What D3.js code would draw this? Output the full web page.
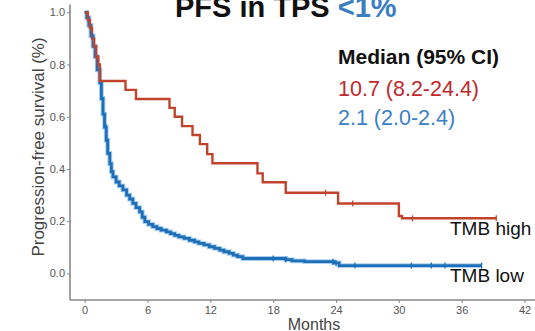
<html>
<head>
  <meta charset="utf-8">
  <title>PFS in TPS &lt;1%</title>
  <style>
    body { margin: 0; background: #fff; }
    svg { display: block; font-family: "Liberation Sans", Arial, sans-serif; }
  </style>
</head>
<body>
<script src="https://d3js.org/d3.v7.min.js"></script>
<script>

// Kaplan-Meier estimates: [months, survival]
var tmbHigh = [
  [0, 1], [0.3, 0.97], [0.5, 0.94], [0.7, 0.9], [0.9, 0.87], [1.1, 0.83], [1.3, 0.8],
  [1.45, 0.737], [3.9, 0.703], [4.9, 0.668], [8.1, 0.634], [8.6, 0.6], [9.3, 0.564],
  [10.3, 0.53], [11.0, 0.495], [11.7, 0.457], [12.2, 0.422], [16.5, 0.383], [17.0, 0.349],
  [19.2, 0.309], [24.2, 0.268], [30.0, 0.22], [30.3, 0.211], [39.3, 0.211]
];
var tmbLow = [
  [0, 1], [0.2, 0.98], [0.4, 0.95], [0.6, 0.91], [0.8, 0.87], [1.0, 0.83], [1.2, 0.78],
  [1.45, 0.73], [1.6, 0.67], [1.75, 0.61], [1.9, 0.56], [2.06, 0.51], [2.2, 0.46],
  [2.4, 0.42], [2.55, 0.39], [2.7, 0.37], [3.0, 0.35], [3.3, 0.335], [3.65, 0.32],
  [4.0, 0.3], [4.3, 0.285], [4.6, 0.268], [4.9, 0.252], [5.25, 0.236], [5.5, 0.215],
  [5.75, 0.198], [6.1, 0.188], [6.5, 0.179], [6.9, 0.172], [7.3, 0.166], [7.8, 0.159],
  [8.2, 0.152], [8.6, 0.146], [9.0, 0.14], [9.5, 0.134], [10.0, 0.127], [10.5, 0.121],
  [10.9, 0.115], [11.4, 0.109], [11.9, 0.102], [12.4, 0.096], [12.9, 0.089], [13.3, 0.083],
  [13.8, 0.077], [14.2, 0.07], [14.6, 0.064], [15.1, 0.057], [19.2, 0.053], [19.8, 0.048],
  [21, 0.045], [23.8, 0.04], [24.3, 0.03], [37.9, 0.03]
];
// censored times
var highCensor = [1.1, 23.0, 25.6, 31.3, 39.3];
var lowCensor = [0.73, 2.05, 18.0, 19.2, 23.7, 24.0, 25.8, 31.2, 33.1, 34.4, 37.9];

var xTicks = [0, 6, 12, 18, 24, 30, 36, 42];
var yTicks = [0, 0.2, 0.4, 0.6, 0.8, 1.0];

var medianHead = "Median (95% CI)";
var medianHigh = "10.7 (8.2-24.4)";
var medianLow = "2.1 (2.0-2.4)";

var svg = d3.select("body").append("svg")
  .attr("width", 535)
  .attr("height", 331);

var x = d3.scaleLinear().domain([-1.4, 43]).range([70, 535]);
var y = d3.scaleLinear().domain([-0.1, 1.03]).range([299.5, 4.5]);

// value of a step curve at time t
function stepAt(data, t) {
  var v = data[0][1];
  data.forEach(function(d) { if (d[0] <= t) v = d[1]; });
  return v;
}

var line = d3.line()
  .x(function(d) { return x(d[0]); })
  .y(function(d) { return y(d[1]); })
  .curve(d3.curveStepAfter);

// axes
var xAxis = d3.axisBottom(x).tickValues(xTicks).tickSize(3).tickPadding(3);
var yAxis = d3.axisLeft(y).tickValues(yTicks).tickSize(3).tickPadding(2)
  .tickFormat(d3.format(".1f"));

svg.append("g")
  .attr("transform", "translate(0,300)")
  .call(xAxis)
  .call(function(g) {
    g.select(".domain").attr("d", "M70,0H535").attr("stroke", "#888").attr("stroke-width", 1.6);
    g.selectAll(".tick line").attr("stroke", "#888");
    g.selectAll("text").attr("fill", "#555").attr("font-size", 11);
  });

svg.append("g")
  .attr("transform", "translate(70,0)")
  .call(yAxis)
  .call(function(g) {
    g.select(".domain").attr("d", "M0,4.5V300").attr("stroke", "#888").attr("stroke-width", 1.6);
    g.selectAll(".tick line").attr("stroke", "#888");
    g.selectAll("text").attr("fill", "#555").attr("font-size", 11);
  });

// curves
svg.append("path")
  .attr("d", line(tmbLow))
  .attr("fill", "none")
  .attr("stroke", "#a9d0f0")
  .attr("stroke-width", 4.8);

svg.append("path")
  .attr("d", line(tmbLow))
  .attr("fill", "none")
  .attr("stroke", "#1f6fb8")
  .attr("stroke-width", 2.8);

svg.append("path")
  .attr("d", line(tmbHigh))
  .attr("fill", "none")
  .attr("stroke", "#c2432c")
  .attr("stroke-width", 2.4);

svg.selectAll(".cl")
  .data(lowCensor)
  .enter().append("line")
  .attr("x1", function(d) { return x(d); })
  .attr("x2", function(d) { return x(d); })
  .attr("y1", function(d) { return y(stepAt(tmbLow, d)) - 3; })
  .attr("y2", function(d) { return y(stepAt(tmbLow, d)) + 3; })
  .attr("stroke", "#1f6fb8")
  .attr("stroke-width", 1.3);

svg.selectAll(".ch")
  .data(highCensor)
  .enter().append("line")
  .attr("x1", function(d) { return x(d); })
  .attr("x2", function(d) { return x(d); })
  .attr("y1", function(d) { return y(stepAt(tmbHigh, d)) - 3; })
  .attr("y2", function(d) { return y(stepAt(tmbHigh, d)) + 3; })
  .attr("stroke", "#c2432c")
  .attr("stroke-width", 1.3);

// axis titles
svg.append("text")
  .attr("x", 314).attr("y", 330)
  .attr("text-anchor", "middle")
  .attr("font-size", 16)
  .attr("fill", "#444")
  .text("Months");

svg.append("text")
  .attr("transform", "translate(44,147) rotate(-90)")
  .attr("text-anchor", "middle")
  .attr("font-size", 17)
  .attr("fill", "#444")
  .text("Progression-free survival (%)");

// title
var title = svg.append("text")
  .attr("x", 175).attr("y", 17)
  .attr("font-size", 29)
  .attr("font-weight", "bold");
title.append("tspan").attr("fill", "#111").text("PFS in TPS ");
title.append("tspan").attr("fill", "#3a7dc0").text("<1%");

// median block
svg.append("text")
  .attr("x", 338).attr("y", 64)
  .attr("font-size", 21).attr("font-weight", "bold").attr("fill", "#111")
  .text(medianHead);
svg.append("text")
  .attr("x", 338).attr("y", 96)
  .attr("font-size", 21.5).attr("fill", "#c0282d")
  .text(medianHigh);
svg.append("text")
  .attr("x", 338).attr("y", 125)
  .attr("font-size", 21.5).attr("fill", "#3b80c6")
  .text(medianLow);

// curve labels
svg.append("text")
  .attr("x", 450).attr("y", 235)
  .attr("font-size", 19).attr("fill", "#111")
  .text("TMB high");
svg.append("text")
  .attr("x", 450).attr("y", 282)
  .attr("font-size", 19).attr("fill", "#111")
  .text("TMB low");

</script>
</body>
</html>
